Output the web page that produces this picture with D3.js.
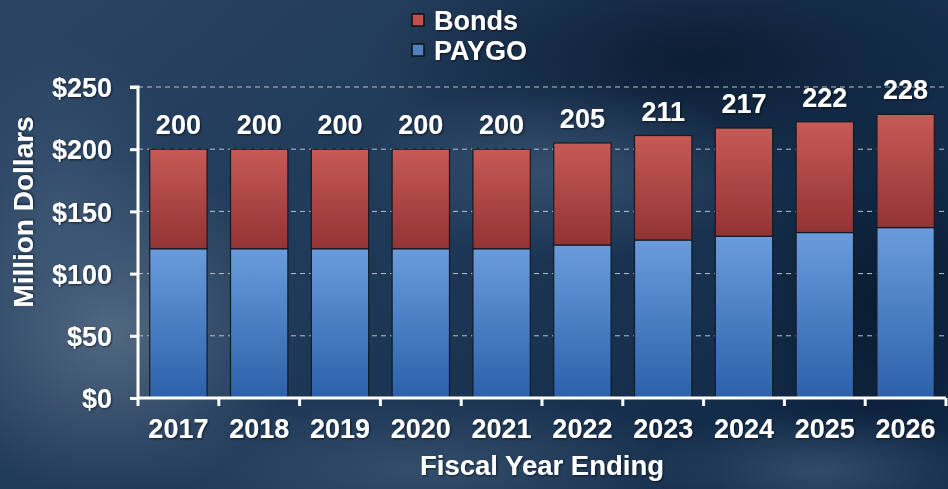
<!DOCTYPE html>
<html>
<head>
<meta charset="utf-8">
<script src="https://cdn.jsdelivr.net/npm/d3@7"></script>
<style>
  body { margin: 0; background: #1b3452; }
  svg text { font-family: "Liberation Sans", Arial, sans-serif; font-weight: bold; fill: #fff; }
</style>
</head>
<body>
<div class="contain"></div>
<script>
const years = ["2017", "2018", "2019", "2020", "2021", "2022", "2023", "2024", "2025", "2026"];
const paygo = [120, 120, 120, 120, 120, 123, 127, 130, 133, 137];
const totals = [200, 200, 200, 200, 200, 205, 211, 217, 222, 228];
const bonds = totals.map((t, i) => t - paygo[i]);
const yTicks = [0, 50, 100, 150, 200, 250];
const seriesNames = ["Bonds", "PAYGO"];

const svg_width = 948;
const svg_height = 489;
const plot_left = 138, plot_right = 946, plot_top = 87, plot_bottom = 398;
const font = "Liberation Sans, Arial, sans-serif";

let svg = d3.select(".contain").append("svg")
            .attr("width", svg_width).attr("height", svg_height);

let defs = svg.append("defs");

// background: base gradient plus soft radial patches
let base = defs.append("linearGradient").attr("id", "base")
  .attr("x1", 0).attr("y1", 0).attr("x2", 1).attr("y2", 0.6);
base.append("stop").attr("offset", "0").attr("stop-color", "#2a4462");
base.append("stop").attr("offset", "0.5").attr("stop-color", "#1f3958");
base.append("stop").attr("offset", "1").attr("stop-color", "#112a47");

function glow(id, color, op) {
  let g = defs.append("radialGradient").attr("id", id);
  g.append("stop").attr("offset", "0").attr("stop-color", color).attr("stop-opacity", op);
  g.append("stop").attr("offset", "1").attr("stop-color", color).attr("stop-opacity", 0);
}
glow("light", "#5a7088", 0.85);
glow("mid", "#3f5a78", 0.7);
glow("dark", "#08192f", 0.85);

let shadow = defs.append("filter").attr("id", "shadow");
shadow.append("feDropShadow").attr("dx", 1).attr("dy", 1).attr("stdDeviation", 1)
  .attr("flood-color", "#000").attr("flood-opacity", 0.6);

function barGrad(id, c1, c2) {
  let g = defs.append("linearGradient").attr("id", id)
    .attr("x1", 0).attr("y1", 0).attr("x2", 0).attr("y2", 1);
  g.append("stop").attr("offset", "0").attr("stop-color", c1);
  g.append("stop").attr("offset", "1").attr("stop-color", c2);
}
barGrad("red", "#c65a56", "#923333");
barGrad("blue", "#6a9cdc", "#2b61aa");

svg.append("rect").attr("width", svg_width).attr("height", svg_height).attr("fill", "url(#base)");
let patches = [
  [700, 60, 330, 130, "dark"],
  [880, 300, 160, 200, "dark"],
  [110, 330, 190, 170, "light"],
  [60, 200, 120, 160, "mid"],
  [420, 470, 300, 80, "mid"],
  [820, 470, 180, 60, "mid"],
  [560, 170, 200, 90, "mid"]
];
svg.append("g").selectAll("ellipse").data(patches).enter().append("ellipse")
  .attr("cx", d => d[0]).attr("cy", d => d[1]).attr("rx", d => d[2]).attr("ry", d => d[3])
  .attr("fill", d => `url(#${d[4]})`);

// scales
let xScale = d3.scaleBand().domain(years).range([plot_left, plot_right]).paddingInner(0.29).paddingOuter(0.145);
let yScale = d3.scaleLinear().domain([0, 250]).range([plot_bottom, plot_top]);

// grid
svg.append("g").selectAll("line").data(yTicks.filter(d => d > 0)).enter().append("line")
  .attr("x1", plot_left).attr("x2", plot_right)
  .attr("y1", d => yScale(d)).attr("y2", d => yScale(d))
  .attr("stroke", "#b8c2cc").attr("stroke-width", 1).attr("stroke-dasharray", "5,4");

// bars
let stackData = d3.stack().keys(["paygo", "bonds"])(
  years.map((y, i) => ({ year: y, paygo: paygo[i], bonds: bonds[i] })));
let fills = { paygo: "url(#blue)", bonds: "url(#red)" };

svg.append("g").selectAll("g").data(stackData).enter().append("g")
  .attr("fill", d => fills[d.key])
  .selectAll("rect").data(d => d).enter().append("rect")
  .attr("x", d => xScale(d.data.year))
  .attr("width", xScale.bandwidth())
  .attr("y", d => yScale(d[1]))
  .attr("height", d => yScale(d[0]) - yScale(d[1]))
  .attr("stroke", "#141a22").attr("stroke-width", 1.2);

// value labels
svg.append("g").selectAll("text").data(totals).enter().append("text")
  .attr("x", (d, i) => xScale(years[i]) + xScale.bandwidth() / 2)
  .attr("y", d => yScale(d) - 15)
  .attr("text-anchor", "middle").attr("font-size", 27)
  .attr("filter", "url(#shadow)")
  .text(d => d);

// axes
let yAxis = d3.axisLeft(yScale).tickValues(yTicks).tickFormat(d => "$" + d).tickSize(8).tickPadding(18);
let yg = svg.append("g").attr("transform", `translate(${plot_left},0)`).call(yAxis);
yg.select(".domain").attr("stroke", "#fff").attr("stroke-width", 3).attr("d", `M-8,${plot_top}H0V${plot_bottom}`);
yg.selectAll(".tick line").attr("stroke", "#fff").attr("stroke-width", 3);
yg.selectAll(".tick text").attr("font-size", 27).attr("fill", "#fff").attr("dy", "0.36em")
  .attr("filter", "url(#shadow)").style("font-family", font).style("font-weight", "bold");

let xAxis = d3.axisBottom(xScale).tickSize(0).tickPadding(21);
let xg = svg.append("g").attr("transform", `translate(0,${plot_bottom})`).call(xAxis);
xg.select(".domain").attr("stroke", "#fff").attr("stroke-width", 3).attr("d", `M${plot_left},0H${plot_right}`);
xg.selectAll(".tick text").attr("font-size", 27).attr("fill", "#fff")
  .attr("filter", "url(#shadow)").style("font-family", font).style("font-weight", "bold");

// x band boundary ticks
let bounds = years.map(y => xScale(y) - xScale.step() * xScale.paddingInner() / 2).concat([plot_right]);
bounds[0] = plot_left;
svg.append("g").selectAll("line").data(bounds).enter().append("line")
  .attr("x1", d => d).attr("x2", d => d)
  .attr("y1", plot_bottom).attr("y2", plot_bottom + 8)
  .attr("stroke", "#fff").attr("stroke-width", 3);

// axis titles
svg.append("text").attr("x", 542).attr("y", 475).attr("text-anchor", "middle")
  .attr("font-size", 27.5).attr("filter", "url(#shadow)").text("Fiscal Year Ending");
svg.append("text").attr("transform", "translate(33,212) rotate(-90)").attr("text-anchor", "middle")
  .attr("font-size", 28).attr("filter", "url(#shadow)").text("Million Dollars");

// legend
let legendFill = ["#c0504d", "#4f81bd"];
let legend = svg.append("g").selectAll("g").data(seriesNames).enter().append("g")
  .attr("transform", (d, i) => `translate(412,${14 + i * 30})`);
legend.append("rect").attr("width", 12).attr("height", 12)
  .attr("fill", (d, i) => legendFill[i]).attr("stroke", "#111").attr("stroke-width", 1.5);
legend.append("text").attr("x", 22).attr("y", 6).attr("dy", "0.36em")
  .attr("font-size", 27).attr("filter", "url(#shadow)").text(d => d);
</script>
</body>
</html>
